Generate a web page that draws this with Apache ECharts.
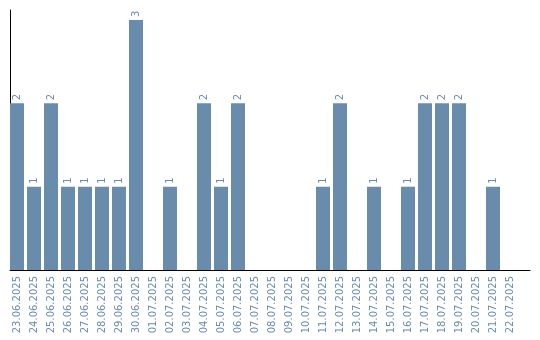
<!DOCTYPE html>
<html><head><meta charset="utf-8">
<script src="https://cdn.jsdelivr.net/npm/echarts@6/dist/echarts.min.js"></script>
<style>html,body{margin:0;padding:0;background:#fff}#c{width:540px;height:340px}</style>
</head><body><div id="c"></div>
<script>
const categories = ["23.06.2025","24.06.2025","25.06.2025","26.06.2025","27.06.2025","28.06.2025","29.06.2025","30.06.2025","01.07.2025","02.07.2025","03.07.2025","04.07.2025","05.07.2025","06.07.2025","07.07.2025","08.07.2025","09.07.2025","10.07.2025","11.07.2025","12.07.2025","13.07.2025","14.07.2025","15.07.2025","16.07.2025","17.07.2025","18.07.2025","19.07.2025","20.07.2025","21.07.2025","22.07.2025"];
const values = [2,1,2,1,1,1,1,3,0,1,0,2,1,2,0,0,0,0,1,2,0,1,0,1,2,2,2,0,1,0];
const chart = echarts.init(document.getElementById('c'));
chart.setOption({
  animation:false,
  grid:[{left:8.5,right:21.5,top:10,bottom:70},{left:10,right:10,top:10,bottom:70}],
  xAxis:[{type:'category',data:categories,gridIndex:0,
    axisLine:{show:false},axisTick:{show:false},
    axisLabel:{rotate:90,interval:0,color:'#6a8caf',fontFamily:'DejaVu Sans',fontSize:10,margin:6}},
    {type:'value',gridIndex:1,min:0,max:1,axisLine:{show:true,onZero:false,lineStyle:{color:'#000',width:1}},
     axisLabel:{show:false},axisTick:{show:false},splitLine:{show:false}}],
  yAxis:[{type:'value',gridIndex:0,min:0,max:3.12,axisLine:{show:false},
    axisLabel:{show:false},axisTick:{show:false},splitLine:{show:false}},
    {type:'value',gridIndex:1,min:0,max:1,axisLine:{show:true,onZero:false,lineStyle:{color:'#000',width:1}},
    axisLabel:{show:false},axisTick:{show:false},splitLine:{show:false}}],
  series:[{type:'bar',data:values,xAxisIndex:0,yAxisIndex:0,barWidth:14,itemStyle:{color:'#6a8cac'},
    label:{show:true,position:'top',rotate:90,align:'left',verticalAlign:'middle',distance:3,
      color:'#6a8caf',fontFamily:'DejaVu Sans',fontSize:10,
      formatter:p=>p.value>0?String(p.value):''}}]
});
</script></body></html>
